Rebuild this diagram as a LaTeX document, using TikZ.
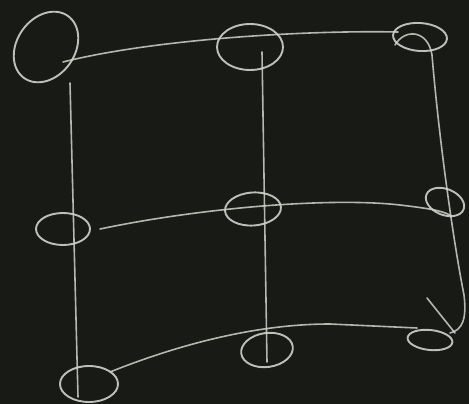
\documentclass[tikz,border=0pt]{standalone}
\usetikzlibrary{shapes.geometric}

\definecolor{board}{RGB}{24,27,21}
\definecolor{chalk}{RGB}{208,210,204}

\tikzset{
  ring/.style={draw=chalk, ellipse, line width=1.9pt, inner sep=0pt, opacity=.9},
  chalkline/.style={draw=chalk, line width=1.6pt, line cap=round, opacity=.85},
}

\begin{document}
\begin{tikzpicture}[x=1pt,y=-1pt]

% Board
\fill[board] (0,0) rectangle (469,404);

% The rings
\node[ring, minimum width=76pt, minimum height=58pt, rotate=55] (TL) at (46,47) {};
\node[ring, minimum width=66pt, minimum height=46pt] (TM) at (250,47) {};
\node[ring, minimum width=54pt, minimum height=28pt, rotate=-4] (TR) at (420,37) {};

\node[ring, minimum width=54pt, minimum height=32pt] (ML) at (63,229) {};
\node[ring, minimum width=56pt, minimum height=33pt, rotate=4] (MM) at (253,209) {};
\node[ring, minimum width=40pt, minimum height=26pt, rotate=-22] (MR) at (445,202) {};

\node[ring, minimum width=58pt, minimum height=36pt] (BL) at (89,384) {};
\node[ring, minimum width=52pt, minimum height=34pt, rotate=8] (BM) at (267,350) {};
\node[ring, minimum width=45pt, minimum height=20pt, rotate=-6] (BR) at (430,340) {};

% Loose ends of the strokes
\coordinate (topA) at ([shift={(17,15)}]TL.center);
\coordinate (topB) at ([shift={(-22,-5)}]TR.center);
\coordinate (midA) at ([shift={(37,0)}]ML.center);
\coordinate (midB) at ([shift={(5,13)}]MR.center);
\coordinate (botA) at ([shift={(21,-12)}]BL.center);
\coordinate (botB) at ([shift={(-13,-12)}]BR.center);

\coordinate (leftA) at ([shift={(24,36)}]TL.center);
\coordinate (leftB) at ([shift={(-11,13)}]BL.center);
\coordinate (cenA) at ([shift={(12,5)}]TM.center);
\coordinate (cenB) at ([shift={(0,12)}]BM.center);
\coordinate (rightA) at ([shift={(-25,8)}]TR.center);
\coordinate (rightB) at ([shift={(20,-7)}]BR.center);

\coordinate (tickA) at ([shift={(-3,-42)}]BR.center);
\coordinate (tickB) at ([shift={(25,-7)}]BR.center);

% Rows
\draw[chalkline] (topA) .. controls (150,40) and (300,30) .. (topB);
\draw[chalkline] (midA) .. controls (200,208) and (330,197) .. (400,205)
  .. controls (425,208) and (440,210) .. (midB);
\draw[chalkline] (botA) .. controls (170,348) and (250,324) .. (330,324)
  -- (botB);

% Columns
\draw[chalkline] (leftA) -- (leftB);
\draw[chalkline] (cenA) -- (cenB);
\draw[chalkline] (rightA) .. controls (405,28) and (428,30) .. (432,55)
  .. controls (440,150) and (455,250) .. (464,295)
  .. controls (467,320) and (462,330) .. (rightB);
\draw[chalkline] (tickA) -- (tickB);

\end{tikzpicture}
\end{document}
